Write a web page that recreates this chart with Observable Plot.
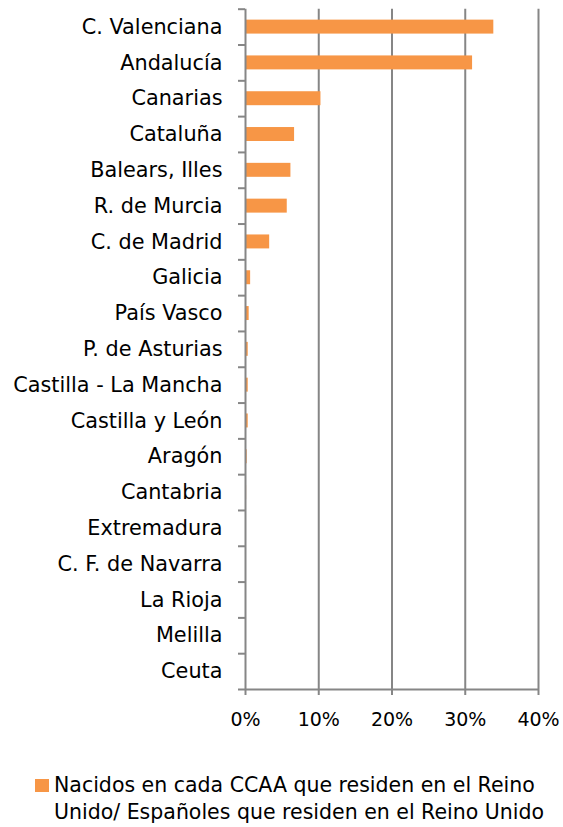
<!DOCTYPE html>
<html>
<head>
<meta charset="utf-8">
<script src="https://cdn.jsdelivr.net/npm/d3@7"></script>
<script src="https://cdn.jsdelivr.net/npm/@observablehq/plot@0.6"></script>
<style>
  body { margin: 0; background: #fff; font-family: "DejaVu Sans", sans-serif; position: relative; width: 563px; height: 827px; overflow: hidden; }
  #chart { position: absolute; left: 0; top: 0; }
  #legend .sw { position: absolute; left: 35px; top: 779px; width: 14px; height: 13px; background: #F79646; }
  #legtext { position: absolute; left: 54px; top: 772px; font-size: 20.5px; line-height: 27px; color: #000; white-space: nowrap; }
</style>
</head>
<body>
<div id="chart"></div>
<div id="legend"><div class="sw"></div><div id="legtext"></div></div>
<script>
const categories = ["C. Valenciana","Andalucía","Canarias","Cataluña","Balears, Illes","R. de Murcia","C. de Madrid","Galicia","País Vasco","P. de Asturias","Castilla - La Mancha","Castilla y León","Aragón","Cantabria","Extremadura","C. F. de Navarra","La Rioja","Melilla","Ceuta"];
const values = [33.9, 31.0, 10.3, 6.7, 6.2, 5.7, 3.3, 0.7, 0.5, 0.37, 0.37, 0.37, 0.23, 0.15, 0.1, 0.08, 0.03, 0.01, 0.01];
const xTicks = [0, 10, 20, 30, 40];
const legendLines = ["Nacidos en cada CCAA que residen en el Reino", "Unido/ Españoles que residen en el Reino Unido"];

const data = categories.map((c, i) => ({cat: c, v: values[i]}));

const W = 563, H = 745, mt = 8.7, mb = H - 689, ml = 245, mr = 25;
const step = (H - mt - mb) / categories.length;
const gray = "#868686";

const plot = Plot.plot({
  width: W, height: H,
  marginTop: mt, marginBottom: mb, marginLeft: ml, marginRight: mr,
  style: {fontFamily: "DejaVu Sans, sans-serif", fontSize: "19px", color: "#000", background: "#fff"},
  x: {domain: [0, 40], ticks: xTicks},
  y: {domain: categories, paddingInner: 0.61, paddingOuter: 0.305, round: false},
  marks: [
    Plot.gridX(xTicks.slice(1), {stroke: gray, strokeOpacity: 1, strokeWidth: 2}),
    Plot.barX(data, {x: "v", y: "cat", fill: "#F79646"}),
    Plot.ruleX([0], {stroke: gray, strokeWidth: 2}),
    Plot.ruleY([categories[categories.length - 1]], {dy: step / 2, x1: 0, x2: 40, stroke: gray, strokeWidth: 2}),
    Plot.axisX({ticks: xTicks, tickSize: 6, tickPadding: 17, fontSize: 19, tickFormat: d => d + "%", stroke: gray, strokeWidth: 2, fill: "#000", label: null}),
    Plot.axisY({tickSize: 0, tickPadding: 23, fontSize: 20.8, fill: "#000", label: null}),
    Plot.axisY({tickSize: 7, tickFormat: () => "", dy: -step / 2, stroke: gray, strokeWidth: 2, label: null}),
    Plot.axisY({ticks: [categories[categories.length - 1]], tickSize: 7, tickFormat: () => "", dy: step / 2, stroke: gray, strokeWidth: 2, label: null})
  ]
});
document.getElementById("chart").append(plot);
document.getElementById("legtext").innerHTML = legendLines.join("<br>");
</script>
</body>
</html>
